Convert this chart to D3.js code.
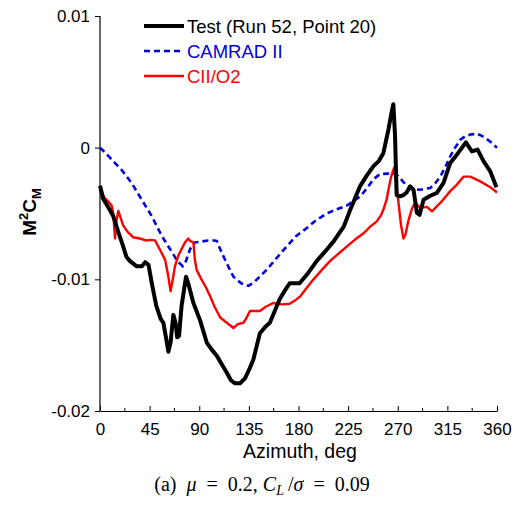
<!DOCTYPE html>
<html>
<head>
<meta charset="utf-8">
<script src="https://cdn.jsdelivr.net/npm/d3@7/dist/d3.min.js"></script>
<style>
  html, body { margin: 0; padding: 0; background: #fff; }
  svg { display: block; }
  text { font-family: Arial, "Liberation Sans", Helvetica, sans-serif; }
</style>
</head>
<body>
<svg id="chart" width="518" height="506"></svg>
<script>
// ---- Data (values in units of 1e-3 for M^2 C_M) ----
const testAz  = [0,3,8,12,17,21,24,27,33,38,41,44,47,51,55,57.5,60,62,64,66.5,68.5,70,71.7,74,78,80,84.7,90.7,96.8,101,105.9,110,115,119,122.5,127,131.6,135,139,145,150,154,158,163,168,172,181,188,196.6,204,212,221,227,236,242,248,253,257,261.6,264,266,267.5,269,272,275.3,278,281.3,284.3,287.4,289.8,293.4,299.5,305.5,311.5,317.6,323.6,331.8,337.3,342.4,347.9,353.9,359.5];
const testVal = [-2.9,-3.9,-4.6,-5.2,-6.5,-7.5,-8.3,-8.6,-9.0,-9.0,-8.7,-8.9,-10.3,-12.0,-13.0,-13.3,-14.5,-15.5,-14.8,-12.7,-13.3,-14.4,-14.3,-12.0,-9.8,-10.3,-11.8,-13.1,-14.8,-15.3,-15.8,-16.4,-17.1,-17.7,-17.9,-17.9,-17.5,-16.9,-16.1,-14.1,-13.6,-13.3,-12.5,-11.5,-10.8,-10.3,-10.3,-9.6,-8.6,-7.9,-7.1,-6.0,-4.7,-2.9,-2.1,-1.4,-1.0,-0.4,1.4,2.5,3.3,1.0,-3.6,-3.7,-3.6,-3.4,-2.94,-3.2,-4.96,-5.1,-3.95,-3.65,-3.44,-2.68,-1.16,-0.53,0.4,-0.28,-0.15,-1.04,-1.8,-3.0];

const camAz  = [0,5,10.6,19.7,28.8,37.8,46.9,56,65,70,75,78,81.7,86,90.7,98,104,106,110,115,121,128,134.6,140,146,151.3,160,169.4,178,187.6,196,205.7,214,223.8,230,236,242,248,254,263,268,271,275,278.3,283,290,299.5,304,308.5,313,317.6,322,326.7,331,335.8,341.8,345,349.4,354,360];
const camVal = [0,-0.4,-0.9,-1.7,-2.7,-3.95,-5.2,-6.7,-7.9,-8.6,-9.0,-8.6,-7.7,-7.2,-7.15,-7.05,-7.05,-7.1,-7.9,-8.8,-9.8,-10.3,-10.5,-10.2,-9.7,-9.26,-8.4,-7.5,-6.7,-6.1,-5.5,-5.0,-4.7,-4.4,-4.05,-3.7,-3.1,-2.4,-2.0,-1.97,-2.0,-2.2,-2.6,-2.9,-3.15,-3.2,-3.06,-2.7,-2.2,-1.5,-0.66,0.0,0.6,0.85,1.0,1.05,0.95,0.74,0.45,0.0];

const ciiAz  = [0,4,7.5,10.6,12,13.6,15,16.6,19,21,25,30,36,42,46,50,54,59,62,64,66,68,71,74,77,80,82,84.7,86,87.7,92,96,100,104,109,115,121,125,130,133,136,145,150,157,165,172,177,181.5,187,193.6,201,208.7,217,224,231,239,245,251,255,257,260,262,264,266.8,268.5,270.7,273,275.2,277,279.8,283,285.8,290.4,296.5,301,308.6,317.6,323.7,329.7,335.8,344.8,353.9,360];
const ciiVal = [-3.2,-3.8,-4.1,-4.4,-5.0,-6.9,-5.5,-4.8,-5.4,-5.9,-6.4,-6.8,-6.9,-7.05,-7.0,-7.05,-7.7,-8.5,-9.8,-10.9,-10.0,-9.0,-8.2,-7.7,-7.2,-6.9,-7.1,-7.2,-8.5,-9.3,-10.0,-10.6,-11.3,-12.1,-12.9,-13.3,-13.7,-13.4,-13.3,-12.9,-12.4,-12.4,-12.1,-11.8,-11.9,-11.85,-11.6,-11.3,-10.7,-10.0,-9.3,-8.6,-8.0,-7.5,-7.0,-6.5,-6.0,-5.6,-5.1,-4.7,-3.9,-3.0,-2.2,-1.5,-2.6,-4.2,-5.9,-6.9,-6.6,-5.5,-4.6,-4.2,-4.58,-4.5,-4.84,-4.2,-3.3,-2.8,-2.2,-2.2,-2.56,-3.0,-3.4];

const xTicks = [0,45,90,135,180,225,270,315,360];
const xMinorTicks = [22.5,67.5,112.5,157.5,202.5,247.5,292.5,337.5];
const yTicks = [-0.02,-0.01,0,0.01];
const yTickLabels = ["-0.02","-0.01","0","0.01"];
const seriesNames = ["Test (Run 52, Point 20)","CAMRAD II","CII/O2"];

// ---- Layout ----
const svg = d3.select("#chart");
const x = d3.scaleLinear().domain([0,360]).range([100,497]);
const y = d3.scaleLinear().domain([-0.02,0.01]).range([411,16]);

// axes
const yAxis = d3.axisLeft(y).tickValues(yTicks)
  .tickFormat((d,i) => yTickLabels[i]).tickSize(5).tickPadding(5);
const gy = svg.append("g").attr("transform","translate(100,0)").call(yAxis);
gy.select(".domain").attr("d","M0,16V411").attr("stroke","#000").attr("stroke-width",1.2);
gy.selectAll("text").attr("font-size",17).attr("fill","#000").style("font-family","Arial, 'Liberation Sans', sans-serif");

const xAxis = d3.axisBottom(x).tickValues(xTicks).tickFormat(d3.format("d"))
  .tickSizeInner(-5).tickSizeOuter(0).tickPadding(12);
const gx = svg.append("g").attr("transform","translate(0,411)").call(xAxis);
gx.select(".domain").attr("stroke","#000").attr("stroke-width",1.2);
gx.selectAll("text").attr("font-size",17).attr("fill","#000").style("font-family","Arial, 'Liberation Sans', sans-serif");

svg.append("g").selectAll("line").data(xMinorTicks).join("line")
  .attr("x1", d => x(d)).attr("x2", d => x(d))
  .attr("y1", 411).attr("y2", 408)
  .attr("stroke","#000").attr("stroke-width",1);

// lines
const scale = v => v/1000;
const mk = (az, vals) => az.map((a,i) => [a, scale(vals[i])]);
const line = d3.line().x(d => x(d[0])).y(d => y(d[1]));

svg.append("path").datum(mk(camAz,camVal)).attr("d",line)
  .attr("fill","none").attr("stroke","#0000dd").attr("stroke-width",2.6)
  .attr("stroke-dasharray","6,4");
svg.append("path").datum(mk(ciiAz,ciiVal)).attr("d",line)
  .attr("fill","none").attr("stroke","#ff0000").attr("stroke-width",2.4)
  .attr("stroke-linejoin","round");
svg.append("path").datum(mk(testAz,testVal)).attr("d",line)
  .attr("fill","none").attr("stroke","#000").attr("stroke-width",4)
  .attr("stroke-linejoin","round");

// legend
const legStyles = [
  {c:"#000", w:4, dash:null, t:"#000"},
  {c:"#0000dd", w:2.6, dash:"6,4", t:"#0000dd"},
  {c:"#ff0000", w:2.4, dash:null, t:"#ff0000"}
];
const lg = svg.append("g");
seriesNames.forEach((name,i) => {
  const yy = 26 + i*25;
  lg.append("line").attr("x1",144).attr("x2",184).attr("y1",yy).attr("y2",yy)
    .attr("stroke",legStyles[i].c).attr("stroke-width",legStyles[i].w)
    .attr("stroke-dasharray",legStyles[i].dash);
  lg.append("text").attr("x",187).attr("y",yy+7).attr("font-size",18.5)
    .attr("fill",legStyles[i].t).text(name);
});

// axis titles
svg.append("text").attr("x",300).attr("y",458).attr("text-anchor","middle")
  .attr("font-size",19.5).attr("font-weight","normal").attr("fill","#000").text("Azimuth, deg");

const yl = svg.append("text").attr("transform","translate(36,212) rotate(-90)")
  .attr("text-anchor","middle").attr("font-size",19).attr("font-weight","bold").attr("fill","#000");
yl.append("tspan").text("M");
yl.append("tspan").attr("font-size",13).attr("dy",-8).text("2");
yl.append("tspan").attr("dy",8).text("C");
yl.append("tspan").attr("font-size",13).attr("dy",5).text("M");

// caption
const cap = svg.append("text").attr("x",262).attr("y",491).attr("text-anchor","middle")
  .attr("font-size",20).attr("fill","#000")
  .style("font-family","'Liberation Serif','Times New Roman',Times,serif");
cap.append("tspan").text("(a)\u00a0\u00a0");
cap.append("tspan").attr("font-style","italic").text("\u03bc");
cap.append("tspan").text("\u2002=\u20020.2,\u00a0");
cap.append("tspan").attr("font-style","italic").text("C");
cap.append("tspan").attr("font-style","italic").attr("font-size",14).attr("dy",4).text("L");
cap.append("tspan").attr("dy",-4).text("\u2009/");
cap.append("tspan").attr("font-style","italic").text("\u03c3");
cap.append("tspan").text("\u2002=\u20020.09");
</script>
</body>
</html>
